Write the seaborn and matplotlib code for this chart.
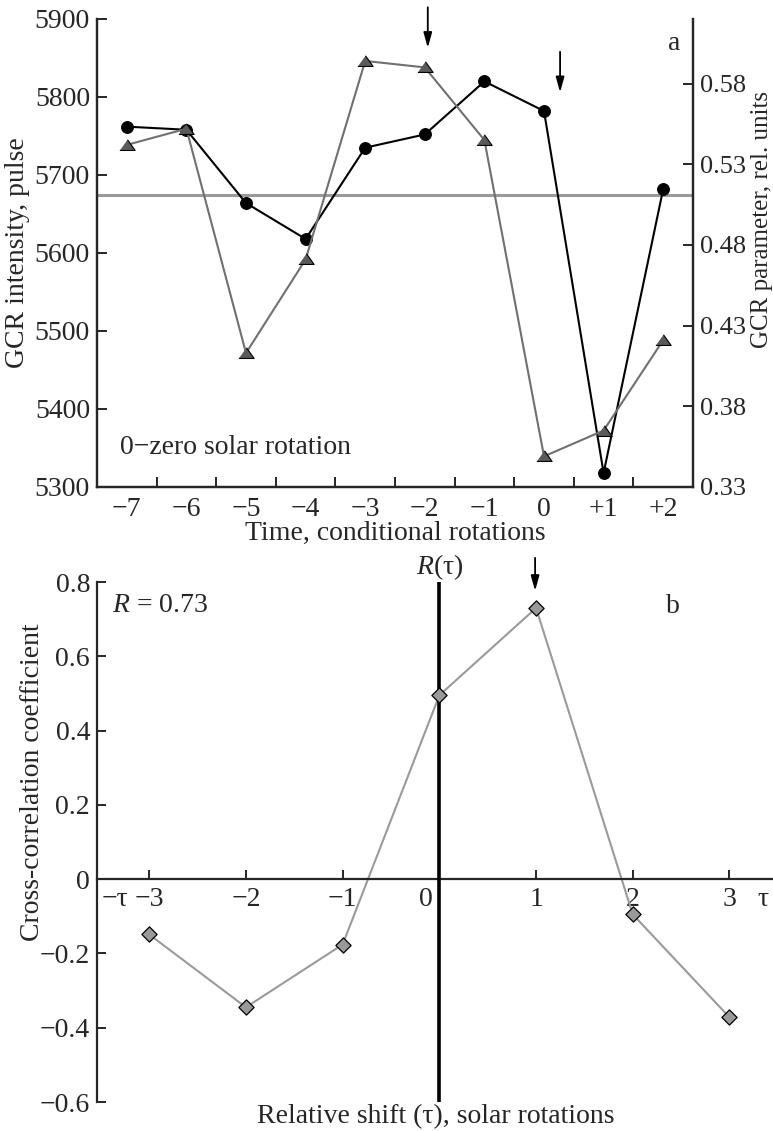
import numpy as np
import matplotlib
matplotlib.use("Agg")
import matplotlib.pyplot as plt
import seaborn as sns

# panel a: GCR intensity and GCR parameter around the zero solar rotation
rotations = [-7, -6, -5, -4, -3, -2, -1, 0, 1, 2]
rotation_labels = ["−7", "−6", "−5", "−4", "−3", "−2", "−1", "0", "+1", "+2"]
gcr_intensity = [5762, 5758, 5664, 5618, 5735, 5752, 5820, 5782, 5318, 5682]
gcr_parameter = [0.542, 0.552, 0.413, 0.471, 0.594, 0.590, 0.545, 0.349, 0.365, 0.421]
intensity_mean = 5675
intensity_ticks = [5300, 5400, 5500, 5600, 5700, 5800, 5900]
parameter_ticks = [0.33, 0.38, 0.43, 0.48, 0.53, 0.58]

# panel b: cross-correlation vs shift
shifts = [-3, -2, -1, 0, 1, 2, 3]
shift_labels = ["−3", "−2", "−1", "", "1", "2", "3"]
xcorr = [-0.149, -0.345, -0.176, 0.495, 0.73, -0.095, -0.372]
corr_ticks = [-0.6, -0.4, -0.2, 0, 0.2, 0.4, 0.6, 0.8]
corr_labels = ["−0.6", "−0.4", "−0.2", "0", "0.2", "0.4", "0.6", "0.8"]

sns.set_style("ticks")
plt.rcParams["font.family"] = ["Liberation Serif", "DejaVu Serif"]
plt.rcParams["mathtext.fontset"] = "custom"
plt.rcParams["mathtext.rm"] = "Liberation Serif"
plt.rcParams["mathtext.it"] = "Liberation Serif:italic"
fs = 20

W, H = 773, 1131
def fx(x):
    return x / W
def fy(y):
    return 1 - y / H

fig = plt.figure(figsize=(W / 100, H / 100), dpi=100)

# ---------- panel a ----------
ax = fig.add_axes([fx(97), fy(487), fx(693) - fx(97), fy(19) - fy(487)])
ax2 = ax.twinx()

ax.axhline(intensity_mean, color="#9a9a9a", lw=2.2, zorder=1)
sns.lineplot(x=rotations, y=gcr_intensity, ax=ax, color="black", lw=1.5,
             marker="o", markersize=8.5, markeredgecolor="black")
tri = [(-1, -0.65), (1, -0.65), (0, 0.75)]
sns.lineplot(x=rotations, y=gcr_parameter, ax=ax2, color="#707070", lw=1.5,
             marker=tri, markersize=11, markerfacecolor="#5a5a5a",
             markeredgecolor="black", markeredgewidth=0.8)

ax.set_xlim(-7.5, 2.5)
ax.set_ylim(5300, 5900)
ax2.set_ylim(0.33, 0.62)
ax.set_xticks(rotations)
ax.set_xticklabels(rotation_labels)
ax.set_xticks(np.arange(-6.5, 2.0, 1.0), minor=True)
ax.set_yticks(intensity_ticks)
ax.set_yticklabels([str(v) for v in intensity_ticks])
ax2.set_yticks(parameter_ticks)
ax2.set_yticklabels([f"{v:.2f}" for v in parameter_ticks])

ax.tick_params(axis="x", which="major", length=0, pad=7, labelsize=fs)
ax.tick_params(axis="x", which="minor", direction="in", length=7, width=1.4)
ax.tick_params(axis="y", direction="in", length=7, width=1.4, pad=5, labelsize=fs)
ax2.tick_params(axis="y", direction="in", length=7, width=1.4, pad=5, labelsize=19)
for a in (ax, ax2):
    a.spines["top"].set_visible(False)
    for s in ("left", "right", "bottom"):
        a.spines[s].set_linewidth(1.6)
    a.set_xlabel("")
    a.set_ylabel("")

arrow = dict(arrowstyle="-|>,head_width=0.25,head_length=0.9", color="black",
             lw=1.3, shrinkA=0, shrinkB=0)
ax.annotate("", xy=(-1.95, 5863), xytext=(-1.95, 5915), arrowprops=arrow,
            annotation_clip=False)
ax.annotate("", xy=(0.27, 5806), xytext=(0.27, 5858), arrowprops=arrow,
            annotation_clip=False)
ax.text(2.18, 5869, "a", fontsize=fs, ha="center", va="center")
ax.text(-7.11, 5350, "0−zero solar rotation", fontsize=fs, va="center")

fig.text(fx(18), fy(253), "GCR intensity, pulse", fontsize=fs, rotation=90,
         ha="center", va="center")
fig.text(fx(762), fy(219), "GCR parameter, rel. units", fontsize=18, rotation=90,
         ha="center", va="center")
fig.text(fx(395), fy(533), "Time, conditional rotations", fontsize=fs,
         ha="center", va="center")

# ---------- panel b ----------
bx = fig.add_axes([fx(97), fy(1102), 1 - fx(97), fy(582) - fy(1102)])
sns.lineplot(x=shifts, y=xcorr, ax=bx, color="#9a9a9a", lw=1.5)
sns.scatterplot(x=shifts, y=xcorr, ax=bx, marker="D", s=60, color="#999999",
                edgecolor="black", linewidth=0.9, zorder=3)
bx.axvline(0, color="black", lw=2.6, zorder=2.6)

bx.set_xlim(-3.54, 3.45)
bx.set_ylim(-0.6, 0.8)
bx.set_xticks(shifts)
bx.set_xticklabels(shift_labels)
bx.set_yticks(corr_ticks)
bx.set_yticklabels(corr_labels)
bx.spines["bottom"].set_position(("data", 0))
bx.spines["top"].set_visible(False)
bx.spines["right"].set_visible(False)
for s in ("left", "bottom"):
    bx.spines[s].set_linewidth(1.6)
bx.tick_params(axis="x", direction="in", length=6.5, width=1.4, pad=6, labelsize=fs)
bx.tick_params(axis="y", direction="in", length=6.5, width=1.4, pad=5, labelsize=fs)
for lbl in bx.get_xticklabels():
    if lbl.get_text() == "2":
        lbl.set_bbox(dict(facecolor="white", edgecolor="none", pad=0.5))
bx.set_xlabel("")
bx.set_ylabel("")

bx.text(-0.072, -0.022, "0", fontsize=fs, ha="right", va="top")
bx.text(-3.35, -0.022, "−τ", fontsize=fs, ha="center", va="top")
bx.text(3.35, -0.022, "τ", fontsize=fs, ha="center", va="top")
bx.text(-3.385, 0.738, "$R$ = 0.73", fontsize=fs, va="center")
bx.text(2.42, 0.735, "b", fontsize=fs, ha="center", va="center")
bx.text(0, 0.84, "$R$(τ)", fontsize=fs, ha="center", va="center")
bx.annotate("", xy=(0.99, 0.776), xytext=(0.99, 0.865), arrowprops=arrow,
            annotation_clip=False)

fig.text(fx(33), fy(782), "Cross-correlation coefficient", fontsize=fs,
         rotation=90, ha="center", va="center")
fig.text(fx(436), fy(1117), "Relative shift (τ), solar rotations", fontsize=fs,
         ha="center", va="center")

fig.savefig("out.png", dpi=100)
